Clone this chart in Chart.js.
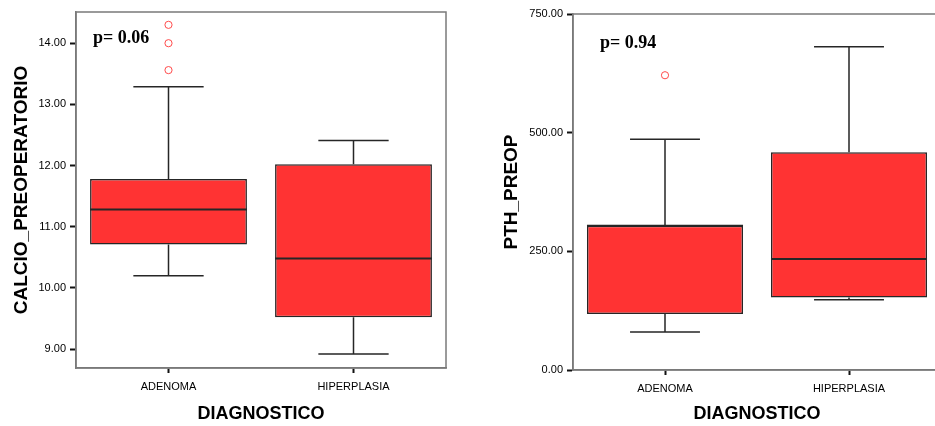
<!DOCTYPE html>
<html>
<head>
<meta charset="utf-8">
<script src="https://cdn.jsdelivr.net/npm/chart.js@4.4.1/dist/chart.umd.min.js"></script>
<style>
    html, body { margin: 0; padding: 0; background: #fff; width: 935px; height: 426px; overflow: hidden; }
    .panel { position: absolute; top: 0; height: 426px; overflow: hidden; }
    #leftPanel { left: 0; width: 467px; }
    #rightPanel { left: 467px; width: 468px; }
</style>
</head>
<body>
<div class="panel" id="leftPanel"><canvas id="calcioChart" width="467" height="426"></canvas></div>
<div class="panel" id="rightPanel"><canvas id="pthChart" width="490" height="426"></canvas></div>
<script>
// Kategorie
var categories = ['ADENOMA', 'HIPERPLASIA'];

// CALCIO_PREOPERATORIO
var calcioMin = [10.20, 8.92];
var calcioQ1 = [10.71, 9.52];
var calcioMedian = [11.28, 10.48];
var calcioQ3 = [11.78, 12.02];
var calcioMax = [13.29, 12.41];
var calcioOutliers = [14.30, 14.00, 13.56]; // ADENOMA
var calcioTicks = [9, 10, 11, 12, 13, 14];

// PTH_PREOP
var pthMin = [80, 148];
var pthQ1 = [118, 153];
var pthMedian = [304, 234];
var pthQ3 = [304, 459];
var pthMax = [486, 681];
var pthOutliers = [621]; // ADENOMA
var pthTicks = [0, 250, 500, 750];

var boxRed = '#ff3333';
var lineDark = '#262626';
var frameGrey = '#7a7a7a';

// Wąsy, mediana, ramka i p-value
var boxplotPlugin = {
    id: 'boxplot',
    afterDatasetsDraw: function (chart, args, opts) {
        var ctx = chart.ctx;
        var x = chart.scales.x;
        var y = chart.scales.y;
        var area = chart.chartArea;
        var step = x.getPixelForValue(1) - x.getPixelForValue(0);
        var cap = step * 0.38 / 2;
        var half = step * 0.848 / 2;
        ctx.save();
        ctx.strokeStyle = lineDark;
        ctx.lineWidth = 1.5;
        for (var i = 0; i < categories.length; i++) {
            var cx = x.getPixelForValue(i);
            var pMin = y.getPixelForValue(opts.mins[i]);
            var pQ1 = y.getPixelForValue(opts.q1[i]);
            var pQ3 = y.getPixelForValue(opts.q3[i]);
            var pMax = y.getPixelForValue(opts.maxs[i]);
            var pMed = y.getPixelForValue(opts.medians[i]);
            ctx.beginPath();
            ctx.moveTo(cx, pQ3); ctx.lineTo(cx, pMax);
            ctx.moveTo(cx - cap, pMax); ctx.lineTo(cx + cap, pMax);
            ctx.moveTo(cx, pQ1); ctx.lineTo(cx, pMin);
            ctx.moveTo(cx - cap, pMin); ctx.lineTo(cx + cap, pMin);
            ctx.stroke();
            ctx.beginPath();
            ctx.lineWidth = 2;
            ctx.moveTo(cx - half, pMed); ctx.lineTo(cx + half, pMed);
            ctx.stroke();
            ctx.lineWidth = 1.5;
        }
        // ramka
        ctx.strokeStyle = frameGrey;
        ctx.lineWidth = 1.5;
        ctx.strokeRect(area.left, area.top, area.right - area.left, area.bottom - area.top);
        // p-value
        ctx.fillStyle = '#000';
        ctx.font = 'bold 18px "Liberation Serif"';
        ctx.textBaseline = 'alphabetic';
        ctx.fillText(opts.pText, area.left + opts.pX, area.top + opts.pY);
        ctx.restore();
    }
};

function makeBoxChart(canvasId, cfg) {
    var ctx = document.getElementById(canvasId).getContext('2d');
    return new Chart(ctx, {
        type: 'bar',
        data: {
            labels: categories,
            datasets: [{
                data: cfg.q1.map(function (v, i) { return [v, cfg.q3[i]]; }),
                backgroundColor: boxRed,
                borderColor: lineDark,
                borderWidth: 1.5,
                borderSkipped: false,
                categoryPercentage: 1,
                barPercentage: 0.848
            },
            {
                type: 'line',
                showLine: false,
                data: cfg.outliers.map(function (v) { return { x: categories[0], y: v }; }),
                pointStyle: 'circle',
                pointRadius: 3.6,
                pointBorderWidth: 1,
                pointBorderColor: '#ff4a4a',
                pointBackgroundColor: 'rgba(255,255,255,0)'
            }]
        },
        options: {
            responsive: false,
            animation: false,
            devicePixelRatio: 1,
            layout: { padding: { left: 0, top: cfg.padTop, right: cfg.padRight, bottom: 0 } },
            plugins: {
                legend: { display: false },
                tooltip: { enabled: false },
                boxplot: {
                    mins: cfg.mins, q1: cfg.q1, q3: cfg.q3, maxs: cfg.maxs, medians: cfg.medians,
                    pText: cfg.pText, pX: cfg.pX, pY: cfg.pY
                }
            },
            scales: {
                x: {
                    offset: true,
                    afterFit: function (scale) { scale.height = cfg.xHeight; },
                    grid: {
                        offset: false,
                        drawOnChartArea: false,
                        drawTicks: true,
                        tickLength: 5,
                        tickWidth: 2,
                        tickColor: '#111'
                    },
                    border: { display: true, color: frameGrey, width: 1.5 },
                    ticks: {
                        color: '#000',
                        padding: 7,
                        font: { family: '"Liberation Sans"', size: 11 }
                    },
                    title: {
                        display: true,
                        text: 'DIAGNOSTICO',
                        color: '#000',
                        padding: { top: 0, bottom: 1 },
                        font: { family: '"Liberation Sans"', size: 18, weight: 'bold' }
                    }
                },
                y: {
                    min: cfg.yMin,
                    max: cfg.yMax,
                    afterFit: function (scale) { scale.width = cfg.yWidth; },
                    afterBuildTicks: function (scale) {
                        scale.ticks = cfg.ticks.map(function (v) { return { value: v }; });
                    },
                    grid: {
                        drawOnChartArea: false,
                        drawTicks: true,
                        tickLength: 6,
                        tickWidth: 2,
                        tickColor: '#111'
                    },
                    border: { display: true, color: frameGrey, width: 1.5 },
                    ticks: {
                        color: '#000',
                        padding: 4,
                        font: { family: '"Liberation Sans"', size: 11 },
                        callback: function (v) { return Number(v).toFixed(2); }
                    },
                    title: {
                        display: true,
                        text: cfg.yTitle,
                        color: '#000',
                        padding: { top: cfg.yTitlePad, bottom: 0 },
                        font: { family: '"Liberation Sans"', size: 19, weight: 'bold' }
                    }
                }
            }
        },
        plugins: [boxplotPlugin]
    });
}

makeBoxChart('calcioChart', {
    mins: calcioMin, q1: calcioQ1, medians: calcioMedian, q3: calcioQ3, maxs: calcioMax,
    outliers: calcioOutliers, ticks: calcioTicks,
    yMin: 8.69, yMax: 14.51, yTitle: 'CALCIO_PREOPERATORIO', yTitlePad: 10,
    padTop: 12, padRight: 21, yWidth: 76, xHeight: 58,
    pText: 'p= 0.06', pX: 17, pY: 31
});

makeBoxChart('pthChart', {
    mins: pthMin, q1: pthQ1, medians: pthMedian, q3: pthQ3, maxs: pthMax,
    outliers: pthOutliers, ticks: pthTicks,
    yMin: 0, yMax: 750, yTitle: 'PTH_PREOP', yTitlePad: 33,
    padTop: 14, padRight: 16, yWidth: 106, xHeight: 56,
    pText: 'p= 0.94', pX: 27, pY: 34
});
</script>
</body>
</html>
